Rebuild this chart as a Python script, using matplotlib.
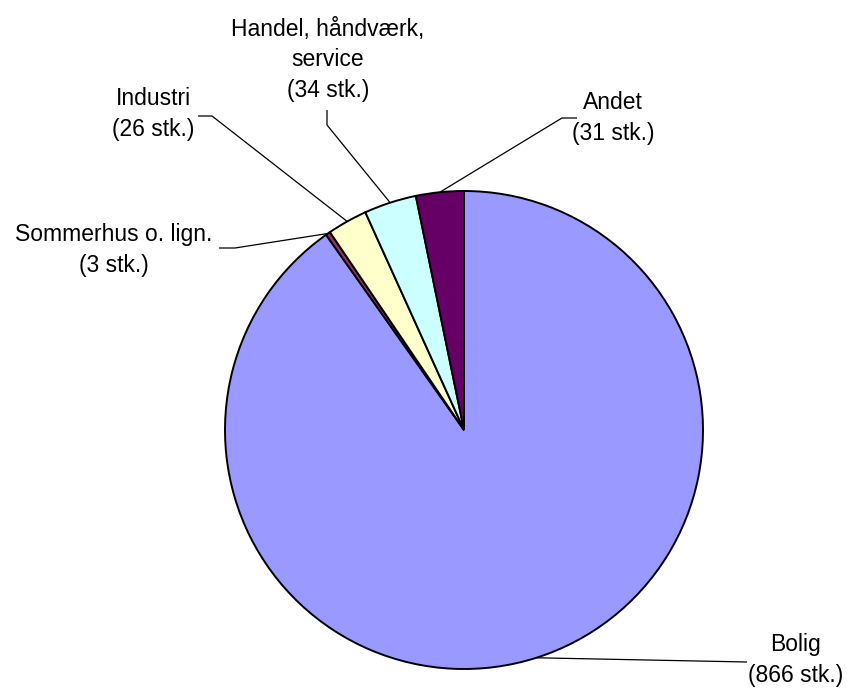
import numpy as np
import matplotlib
matplotlib.use("Agg")
import matplotlib.pyplot as plt

plt.rcParams['font.family'] = ['Liberation Sans', 'DejaVu Sans']

categories = ["Bolig", "Sommerhus o. lign.", "Industri", "Handel, håndværk,\nservice", "Andet"]
counts = [866, 3, 26, 34, 31]
colors = ["#9999FF", "#993366", "#FFFFCC", "#CCFFFF", "#660066"]

W, H = 847, 688
fig = plt.figure(figsize=(W / 100, H / 100), dpi=100)
ax = fig.add_axes([0, 0, 1, 1])

cx, cy, r = 464, H - 430, 239
wedges, _ = ax.pie(counts, colors=colors, startangle=90, counterclock=False,
                   center=(cx, cy), radius=r, frame=True,
                   wedgeprops=dict(edgecolor='black', linewidth=1.4))
ax.set_xlim(0, W)
ax.set_ylim(0, H)
ax.set_aspect('equal')
ax.axis('off')

# label block centres and leader-line elbows, in pixels from the top-left corner
layout = {
    "Bolig": dict(tx=796, ty=660, pts=[(747, 662)]),
    "Sommerhus o. lign.": dict(tx=114, ty=250, pts=[(235, 248), (219, 248)]),
    "Industri": dict(tx=153, ty=114, pts=[(212, 116), (198, 116)]),
    "Handel, håndværk,\nservice": dict(tx=328, ty=60, pts=[(327, 125), (327, 110)]),
    "Andet": dict(tx=613, ty=118, pts=[(562, 118), (577, 118)]),
}

for w, cat, n in zip(wedges, categories, counts):
    mid = np.deg2rad((w.theta1 + w.theta2) / 2)
    sx, sy = cx + r * np.cos(mid), cy + r * np.sin(mid)
    lay = layout[cat]
    xs = [sx] + [p[0] for p in lay["pts"]]
    ys = [sy] + [H - p[1] for p in lay["pts"]]
    ax.plot(xs, ys, color='black', lw=0.9, solid_capstyle='butt')
    ax.text(lay["tx"], H - lay["ty"], f"{cat}\n({n} stk.)", ha='center', va='center',
            fontsize=16.5, linespacing=1.42, color='black')

fig.savefig("out.png", dpi=100)
